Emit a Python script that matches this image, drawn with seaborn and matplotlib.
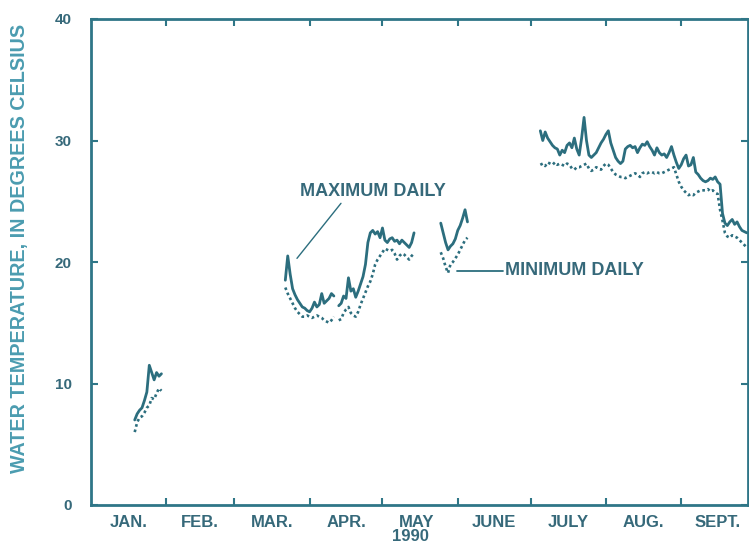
import matplotlib
matplotlib.use("Agg")
import numpy as np
import pandas as pd
import matplotlib.pyplot as plt
import seaborn as sns

# ---- daily water temperature, 1990 (x = day of year, Jan 1 = 0) ----
jan_days = list(range(18, 30))
jan_max = [7.0, 7.5, 7.8, 8.0, 8.6, 9.3, 11.5, 10.9, 10.3, 10.9, 10.6, 10.8]
jan_min = [6.0, 6.8, 7.2, 7.3, 7.6, 8.0, 8.2, 8.8, 8.7, 9.2, 9.6, 9.4]

mar_days = list(range(80, 101))
mar_max = [18.5, 20.5, 19.0, 17.8, 17.3, 16.9, 16.6, 16.3, 16.2, 16.0, 15.9,
           16.2, 16.7, 16.3, 16.5, 17.4, 16.6, 16.8, 17.0, 17.4, 17.2]
mar_min = [17.9, 17.4, 17.0, 16.6, 16.2, 15.9, 15.7, 15.5, 15.5, 15.6, 15.5,
           15.4, 15.5, 15.6, 15.5, 15.4, 15.2, 15.1, 15.0, 15.2, 15.5]

apr_days = list(range(102, 134))
apr_max = [16.4, 16.6, 17.2, 17.0, 18.7, 17.6, 17.8, 17.1, 17.6, 18.2, 18.8,
           19.8, 21.6, 22.4, 22.6, 22.3, 22.5, 22.0, 22.8, 21.8, 21.6, 21.9,
           22.0, 21.7, 21.8, 21.5, 21.8, 21.6, 21.4, 21.2, 21.6, 22.4]
apr_min = [15.2, 15.3, 15.8, 16.1, 16.3, 15.8, 15.6, 15.5, 15.9, 16.5, 17.0,
           17.5, 18.0, 18.4, 19.0, 19.8, 20.2, 20.5, 20.8, 21.1, 21.0, 20.9,
           21.0, 20.7, 20.2, 20.5, 20.7, 20.6, 20.4, 20.2, 20.5, 20.7]

may_days = list(range(144, 156))
may_max = [23.2, 22.4, 21.6, 21.0, 21.3, 21.5, 21.9, 22.6, 23.0, 23.6, 24.3, 23.3]
may_min = [20.8, 20.3, 19.6, 19.1, 19.8, 20.0, 20.3, 20.6, 21.0, 21.4, 21.8, 22.0]

jul_days = list(range(185, 271))
jul_max = [30.8, 30.0, 30.7, 30.2, 29.9, 29.6, 29.4, 29.3, 28.8, 29.2,
           29.0, 29.6, 29.8, 29.4, 30.2, 29.3, 28.8, 30.2, 31.9, 30.0,
           28.8, 28.6, 28.8, 29.0, 29.4, 29.8, 30.1, 30.5, 30.8, 29.8,
           29.2, 28.6, 28.3, 28.1, 28.3, 29.3, 29.5, 29.6, 29.4, 29.5,
           29.0, 29.4, 29.7, 29.6, 29.9, 29.5, 29.2, 28.8, 29.4, 29.0,
           28.8, 28.9, 28.6, 29.0, 29.5, 28.8, 28.2, 27.7, 28.0, 28.5,
           28.8, 27.9, 28.0, 28.6, 27.4, 27.2, 26.9, 26.7, 26.6, 26.7,
           26.9, 26.8, 27.0, 26.6, 26.4, 24.0, 23.2, 23.0, 23.3, 23.5,
           23.1, 23.3, 22.9, 22.6, 22.5, 22.4]
jul_min = [28.0, 28.1, 27.9, 28.2, 28.1, 28.0, 28.2, 28.0, 28.1, 28.0,
           27.9, 28.1, 28.0, 27.7, 27.6, 27.8, 27.8, 27.9, 28.0, 28.1,
           27.7, 27.5, 27.6, 27.8, 27.7, 27.6, 27.9, 28.1, 28.0, 27.7,
           27.4, 27.2, 27.1, 27.0, 27.0, 26.9, 27.0, 27.1, 27.2, 27.3,
           27.2, 27.0, 27.3, 27.4, 27.3, 27.4, 27.4, 27.3, 27.4, 27.3,
           27.3, 27.4, 27.5, 27.6, 27.7, 27.8, 27.2, 26.6, 26.2, 25.9,
           25.7, 25.5, 25.6, 25.5, 25.7, 25.8, 25.9, 25.9, 25.9, 26.0,
           25.8, 25.9, 25.7, 25.6, 24.3, 23.4, 22.4, 22.1, 22.0, 22.2,
           22.1, 22.0, 21.8, 21.6, 21.4, 21.2]

month_starts = [31, 59, 90, 120, 151, 181, 212, 243]
month_mids = [15.5, 45, 74.5, 105, 134, 166, 196.5, 227.5, 258]
month_labels = ["JAN.", "FEB.", "MAR.", "APR.", "MAY", "JUNE", "JULY", "AUG.", "SEPT."]
y_ticks = [0, 10, 20, 30, 40]

segments = [
    ("jan", jan_days, jan_max, jan_min),
    ("mar", mar_days, mar_max, mar_min),
    ("apr", apr_days, apr_max, apr_min),
    ("may", may_days, may_max, may_min),
    ("jul", jul_days, jul_max, jul_min),
]
rows_max, rows_min = [], []
for name, days, tmax, tmin in segments:
    rows_max.append(pd.DataFrame({"day": days, "temp": tmax, "seg": name}))
    rows_min.append(pd.DataFrame({"day": days, "temp": tmin, "seg": name}))
df_max = pd.concat(rows_max, ignore_index=True)
df_min = pd.concat(rows_min, ignore_index=True)

# ---- styling ----
sns.set_style("white")
plt.rcParams["font.family"] = ["Liberation Sans", "DejaVu Sans"]

LINE = "#2c6e7e"
FRAME = "#2f7687"
TEXT = "#36697a"
YLAB = "#4b9cb0"

fig = plt.figure(figsize=(7.49, 5.48), dpi=100)
ax = fig.add_axes([91 / 749, 43 / 548, (748 - 91) / 749, 486 / 548])

sns.lineplot(data=df_max, x="day", y="temp", units="seg", estimator=None,
             color=LINE, lw=2.0, ax=ax, legend=False)
sns.lineplot(data=df_min, x="day", y="temp", units="seg", estimator=None,
             color=LINE, lw=1.9, linestyle=(0, (1, 1.1)), ax=ax, legend=False)

ax.set_xlim(0, 270.5)
ax.set_ylim(0, 40)

for s in ax.spines.values():
    s.set_visible(True)
    s.set_color(FRAME)
    s.set_linewidth(2.0)

ax.set_xticks(month_starts)
ax.set_xticklabels([])
ax.set_xticks(month_mids, minor=True)
ax.set_xticklabels(month_labels, minor=True)
ax.tick_params(axis="x", which="major", direction="in", length=5, width=1.5,
               color=FRAME, top=True, bottom=True)
ax.tick_params(axis="x", which="minor", length=0, pad=7, labelsize=12,
               labelcolor=TEXT)
for lab in ax.get_xticklabels(minor=True):
    lab.set_fontweight("bold")

ax.set_yticks(y_ticks)
ax.tick_params(axis="y", direction="in", length=5, width=1.5, color=FRAME,
               left=True, right=True, pad=14, labelsize=11, labelcolor=TEXT)
for lab in ax.get_yticklabels():
    lab.set_fontweight("bold")

ax.set_xlabel("")
ax.set_ylabel("WATER TEMPERATURE, IN DEGREES CELSIUS", fontsize=14.2,
              fontweight="bold", color=YLAB)
ax.yaxis.set_label_coords(-0.095, 0.527)

ax.annotate("1990", xy=(131.5, 0), xycoords=("data", "axes fraction"),
            xytext=(0, -23), textcoords="offset points", ha="center",
            va="center", fontsize=12, fontweight="bold", color=TEXT)

ax.annotate("MAXIMUM DAILY", xy=(84.8, 20.3), xytext=(86, 25.8),
            ha="left", va="center", fontsize=13, fontweight="bold", color=TEXT,
            arrowprops=dict(arrowstyle="-", color=LINE, lw=1.0,
                            shrinkA=0, shrinkB=0,
                            relpos=(0.3, 0.0)))
ax.plot([150.6, 169.5], [19.3, 19.3], color=LINE, lw=1.3)
ax.text(170.4, 19.3, "MINIMUM DAILY", ha="left", va="center", fontsize=13,
        fontweight="bold", color=TEXT)

fig.savefig("out.png", dpi=100)
